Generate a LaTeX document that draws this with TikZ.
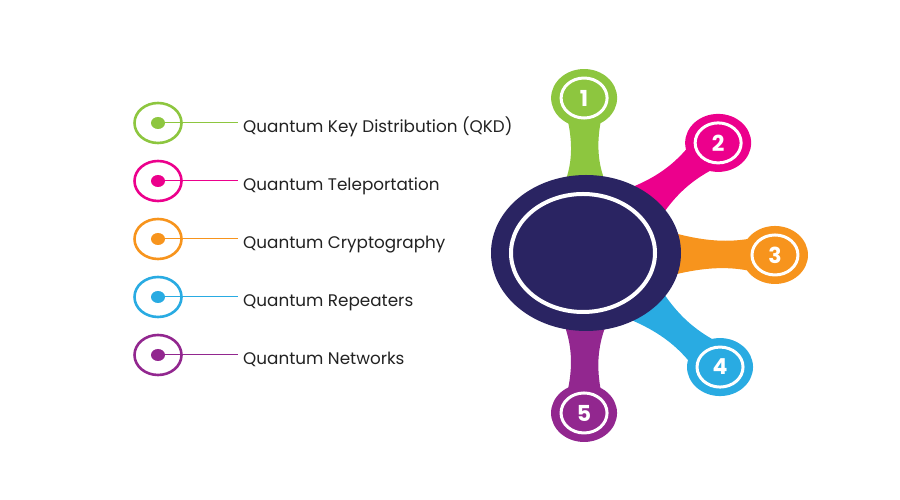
\documentclass[tikz,border=0pt]{standalone}
\usepackage{fontspec}
\setmainfont{Poppins}
\usetikzlibrary{positioning,shapes.geometric}

\definecolor{qgreen}{HTML}{8DC63F}
\definecolor{qpink}{HTML}{EC008C}
\definecolor{qorange}{HTML}{F7941D}
\definecolor{qblue}{HTML}{29ABE2}
\definecolor{qpurple}{HTML}{92278F}
\definecolor{qnavy}{HTML}{2A2462}
\definecolor{qtext}{HTML}{222222}

\begin{document}
\begin{tikzpicture}[x=1pt,y=1pt,
        ring/.style={ellipse,draw=#1,line width=2.6pt,minimum width=47pt,minimum height=40pt,inner sep=0pt},
        dotmark/.style={ellipse,fill=#1,minimum width=14pt,minimum height=12pt,inner sep=0pt},
        item/.style={anchor=west,inner xsep=5pt,inner ysep=0pt,text height=20pt,text depth=0pt,
            font=\fontsize{16.8}{20}\selectfont,text=qtext},
        blob/.style={ellipse,fill=#1,minimum width=66pt,minimum height=58pt,inner sep=0pt},
        numring/.style={ellipse,fill=#1,draw=white,line width=3pt,minimum width=46pt,minimum height=40pt,
            inner sep=0pt,text=white,font=\fontsize{22}{22}\selectfont\bfseries},
        hub/.style={ellipse,fill=qnavy,minimum width=190pt,minimum height=156pt,inner sep=0pt}]
        \useasboundingbox (0,0) rectangle (900,500);
        % list on the left
        \node[ring=qgreen] (r1) at (158,377) {};
        \node[dotmark=qgreen] (d1) at (r1) {};
        \node[item] (t1) at (238,377) {Quantum Key Distribution (QKD)};
        \draw[qgreen,line width=1pt] (d1) -- (t1.west);
        \node[ring=qpink] (r2) at (158,319) {};
        \node[dotmark=qpink] (d2) at (r2) {};
        \node[item] (t2) at (238,319) {Quantum Teleportation};
        \draw[qpink,line width=1pt] (d2) -- (t2.west);
        \node[ring=qorange] (r3) at (158,261) {};
        \node[dotmark=qorange] (d3) at (r3) {};
        \node[item] (t3) at (238,261) {Quantum Cryptography};
        \draw[qorange,line width=1pt] (d3) -- (t3.west);
        \node[ring=qblue] (r4) at (158,203) {};
        \node[dotmark=qblue] (d4) at (r4) {};
        \node[item] (t4) at (238,203) {Quantum Repeaters};
        \draw[qblue,line width=1pt] (d4) -- (t4.west);
        \node[ring=qpurple] (r5) at (158,145) {};
        \node[dotmark=qpurple] (d5) at (r5) {};
        \node[item] (t5) at (238,145) {Quantum Networks};
        \draw[qpurple,line width=1pt] (d5) -- (t5.west);
        % hub with five stems
        \begin{scope}[shift={(586,247)}]
        \begin{scope}[rotate=90.7]
        \fill[qgreen] (45,34) .. controls (80,10) and (110,10) .. (147,20) -- (147,-20) .. controls (110,-10) and (80,-10) .. (45,-34) -- cycle;
        \end{scope}
        \begin{scope}[rotate=39.8]
        \fill[qpink] (45,34) .. controls (97,10) and (127,10) .. (164,20) -- (164,-20) .. controls (127,-10) and (97,-10) .. (45,-34) -- cycle;
        \end{scope}
        \begin{scope}[rotate=-0.6]
        \fill[qorange] (45,34) .. controls (114,10) and (144,10) .. (181,20) -- (181,-20) .. controls (144,-10) and (114,-10) .. (45,-34) -- cycle;
        \end{scope}
        \begin{scope}[rotate=-40.4]
        \fill[qblue] (45,34) .. controls (101,10) and (131,10) .. (168,20) -- (168,-20) .. controls (131,-10) and (101,-10) .. (45,-34) -- cycle;
        \end{scope}
        \begin{scope}[rotate=-90.7]
        \fill[qpurple] (45,34) .. controls (85,10) and (115,10) .. (152,20) -- (152,-20) .. controls (115,-10) and (85,-10) .. (45,-34) -- cycle;
        \end{scope}
        \node[hub] (hub) at (0,0) {};
        \node[ellipse,draw=white,line width=4pt,fill=qnavy,minimum width=144pt,minimum height=118pt] (core) at (-3,0) {};
        \node[blob=qgreen] (b1) at (90.7:155) {};
        \node[numring=qgreen] (n1) at (b1) {1};
        \node[blob=qpink] (b2) at (39.8:172) {};
        \node[numring=qpink] (n2) at (b2) {2};
        \node[blob=qorange] (b3) at (-0.6:189) {};
        \node[numring=qorange] (n3) at (b3) {3};
        \node[blob=qblue] (b4) at (-40.4:176) {};
        \node[numring=qblue] (n4) at (b4) {4};
        \node[blob=qpurple] (b5) at (-90.7:160) {};
        \node[numring=qpurple] (n5) at (b5) {5};
        \end{scope}
\end{tikzpicture}
\end{document}
